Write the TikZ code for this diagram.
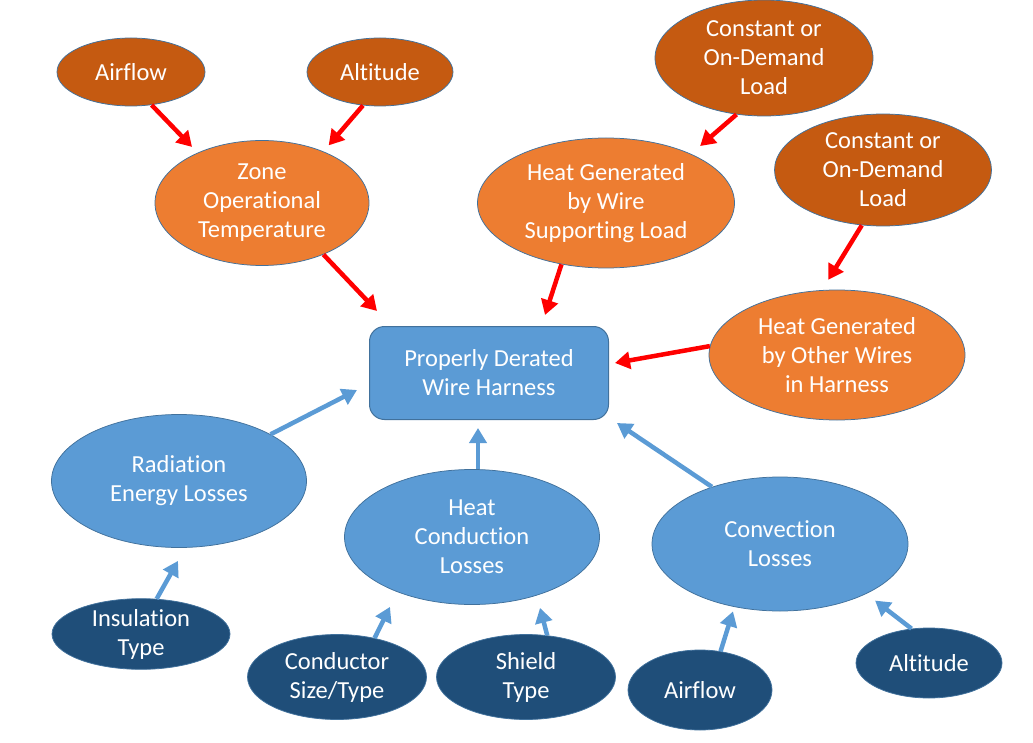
\documentclass[tikz,border=0pt]{standalone}
\usepackage{fontspec}
\setmainfont[Ligatures=NoCommon]{Carlito}
\usetikzlibrary{shapes.geometric,arrows.meta}
\definecolor{rust}{HTML}{C55A11}
\definecolor{tangerine}{HTML}{ED7D31}
\definecolor{steel}{HTML}{5B9BD5}
\definecolor{navy}{HTML}{1F4E79}
\definecolor{rim}{HTML}{41719C}

\begin{document}
\begin{tikzpicture}[
        x=1pt, y=-1pt,
        blob/.style={ellipse, draw=rim, line width=0.75pt, inner sep=0pt, text=white, align=center, font=\fontsize{24.5}{29}\selectfont},
        factor/.style={blob, fill=rust},
        cause/.style={blob, fill=tangerine},
        loss/.style={blob, fill=steel},
        detail/.style={blob, fill=navy},
        hub/.style={draw=rim, line width=1pt, fill=steel, rounded corners=15pt, minimum width=239pt, minimum height=93pt, text=white, align=center, font=\fontsize{24.5}{29}\selectfont},
        heat/.style={red, line width=4.5pt, -{Triangle[length=15pt,width=17pt]}},
        flow/.style={steel, line width=4.5pt, -{Triangle[length=15pt,width=17pt]}}
    ]
        \useasboundingbox (0,0) rectangle (1033,743);

        % Heat sources
        \node[factor, minimum width=148pt, minimum height=68pt] (air1) at (131,72) {Airflow};
        \node[factor, minimum width=146pt, minimum height=68pt] (alt1) at (380,72) {Altitude};
        \node[cause, minimum width=214pt, minimum height=125pt] (zone) at (262,203) {Zone\\Operational\\Temperature};
        \node[factor, minimum width=218pt, minimum height=116pt] (load1) at (764,58) {Constant or\\On-Demand\\Load};
        \node[cause, minimum width=257pt, minimum height=130pt] (wire) at (606,203) {Heat Generated\\by Wire\\Supporting Load};
        \node[factor, minimum width=217pt, minimum height=112pt] (load2) at (883,170) {Constant or\\On-Demand\\Load};
        \node[cause, minimum width=256pt, minimum height=130pt] (other) at (837,355) {Heat Generated\\by Other Wires\\in Harness};

        % Goal
        \node[hub] (harness) at (489,373) {Properly Derated\\Wire Harness};

        % Losses
        \node[loss, minimum width=255pt, minimum height=133pt] (rad) at (179,481) {Radiation\\Energy Losses};
        \node[loss, minimum width=255pt, minimum height=135pt] (cond) at (472,537) {Heat\\Conduction\\Losses};
        \node[loss, minimum width=256pt, minimum height=134pt] (conv) at (780,544) {Convection\\Losses};
        \node[detail, minimum width=178pt, minimum height=64pt] (ins) at (141,634) {Insulation\\Type};
        \node[detail, minimum width=179pt, minimum height=85pt] (cnd) at (337,677) {Conductor\\Size/Type};
        \node[detail, minimum width=179pt, minimum height=85pt] (shd) at (526,677) {Shield\\Type};
        \node[detail, minimum width=144pt, minimum height=80pt] (air2) at (700,690) {Airflow};
        \node[detail, minimum width=146pt, minimum height=70pt] (alt2) at (929,663) {Altitude};

        % Heat arrows
        \draw[heat, shorten >=8pt] (air1.-58) -- (zone.142);
        \draw[heat, shorten >=8pt] (alt1.-117) -- (zone.40);
        \draw[heat] (zone.-40) -- ([xshift=8pt,yshift=15pt]harness.north west);
        \draw[heat, shorten >=12pt] (load1.-116) -- (wire.30);
        \draw[heat] (wire.-126) -- ([xshift=56pt,yshift=11pt]harness.north);
        \draw[heat, shorten >=12pt] (load2.-111) -- (other.103);
        \draw[heat] (other.176) -- ([xshift=6pt,yshift=10pt]harness.east);

        % Loss arrows
        \draw[flow] (rad.27) -- ([xshift=-12pt,yshift=30pt]harness.south west);
        \draw[flow] ([xshift=6pt]cond.north) -- ([xshift=-11pt,yshift=-8pt]harness.south);
        \draw[flow] (conv.140) -- ([xshift=8pt,yshift=-3pt]harness.south east);
        \draw[flow] (ins.66) -- ([xshift=-1pt,yshift=-13pt]rad.south);
        \draw[flow] (cnd.46) -- ([xshift=-82pt,yshift=-2pt]cond.south);
        \draw[flow] (shd.63) -- ([xshift=68pt,yshift=-3pt]cond.south);
        \draw[flow] (air2.62) -- ([xshift=-47pt]conv.south);
        \draw[flow, shorten >=11pt] (alt2.117) -- (conv.-30);
    \end{tikzpicture}
\end{document}
